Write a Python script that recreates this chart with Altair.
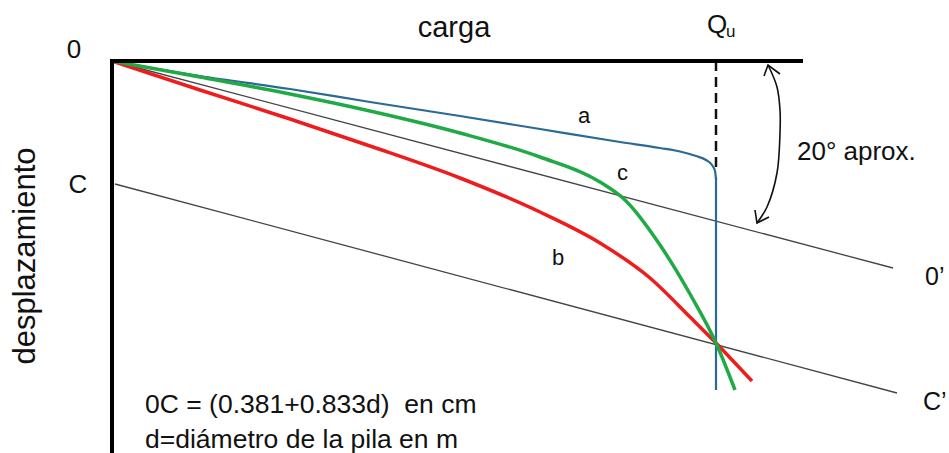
import altair as alt
import pandas as pd

# Data read from the schematic (units: carga / desplazamiento, origin at 0)
a_carga = [0, 88, 178, 258, 348, 428, 508, 548, 570, 584, 594, 600, 603, 604]
a_desp = [0, 15, 28, 41, 55, 68, 81, 87, 91, 95, 99, 104, 110, 118]
a_vert_carga = [604, 604]
a_vert_desp = [116, 329]

c_carga = [0, 88, 178, 258, 348, 428, 488, 513, 548, 578, 604, 623]
c_desp = [0, 16, 33, 50, 72, 96, 121, 139, 184, 233, 282, 329]

b_carga = [0, 88, 178, 258, 348, 428, 488, 538, 578, 604, 623, 640]
b_desp = [0, 29, 58, 85, 117, 151, 182, 217, 256, 282, 302, 320]

oo_carga = [0, 781]
oo_desp = [0, 207]
cc_carga = [3, 785]
cc_desp = [123, 332]

qu_carga = [604, 604]
qu_desp = [0, 108]

axis_top_carga = [-2, 691]
axis_top_desp = [0, 0]
axis_left_carga = [0, 0]
axis_left_desp = [-2, 392]

arc_carga = [656, 665, 668, 668, 665, 655, 645]
arc_desp = [4, 26, 49, 72, 112, 146, 162]
head1_carga = [652, 656, 668]
head1_desp = [15, 4, 13]
head2_carga = [643, 645, 657]
head2_desp = [149, 162, 156]

xs = alt.Scale(domain=[-112, 837], nice=False, zero=False)
ys = alt.Scale(domain=[-61, 392], nice=False, zero=False, reverse=True)


def df(cx, cy):
    return pd.DataFrame({"carga": cx, "desp": cy, "orden": list(range(len(cx)))})


def line(cx, cy, color, width, interp="linear", dash=None):
    kw = dict(color=color, strokeWidth=width, interpolate=interp)
    if dash:
        kw["strokeDash"] = dash
    return alt.Chart(df(cx, cy)).mark_line(**kw).encode(
        x=alt.X("carga:Q", scale=xs, axis=None),
        y=alt.Y("desp:Q", scale=ys, axis=None),
        order="orden:Q",
    )


def text(label, x, y, size, align="left", angle=0):
    kw = dict(text=label, fontSize=size, align=align, baseline="alphabetic",
              font="Liberation Sans", color="#111111")
    if angle:
        kw["angle"] = angle
    return alt.Chart().mark_text(**kw).encode(
        x=alt.XDatum(x, type="quantitative", scale=xs, axis=None),
        y=alt.YDatum(y, type="quantitative", scale=ys, axis=None),
    )


layers = [
    line(oo_carga, oo_desp, "#444444", 1.3),
    line(cc_carga, cc_desp, "#444444", 1.3),
    line(qu_carga, qu_desp, "#111111", 2.5, dash=[10, 6]),
    line(a_carga, a_desp, "#2b6a94", 2.2, "monotone"),
    line(a_vert_carga, a_vert_desp, "#2b6a94", 2.2),
    line(b_carga, b_desp, "#ee1c1c", 3.5, "monotone"),
    line(c_carga, c_desp, "#1faa45", 3.5, "monotone"),
    line(axis_top_carga, axis_top_desp, "#000000", 4),
    line(axis_left_carga, axis_left_desp, "#000000", 4),
    line(arc_carga, arc_desp, "#111111", 1.6, "catmull-rom"),
    line(head1_carga, head1_desp, "#111111", 1.6),
    line(head2_carga, head2_desp, "#111111", 1.6),
    text("carga", 342, -24, 29, "center"),
    text("Q", 595, -28, 26),
    text("u", 614, -24, 17),
    text("0", -38, -3, 26, "center"),
    text("C", -34, 132, 26, "center"),
    text("desplazamiento", -77, 195, 31, "center", 270),
    text("20° aprox.", 685, 99, 26),
    text("0’", 813, 224, 25),
    text("C’", 811, 349, 25),
    text("a", 466, 62, 22),
    text("c", 505, 119, 22),
    text("b", 440, 204, 22),
    text("0C = (0.381+0.833d)\u00a0 en cm", 33, 352, 26.5),
    text("d=diámetro de la pila en m", 33, 387, 26.5),
]

chart = alt.layer(*layers).properties(
    width=949, height=453, padding=0, autosize="none", background="white"
).configure_view(strokeWidth=0)

chart.save("out.html", embed_options={"renderer": "svg", "actions": False})
